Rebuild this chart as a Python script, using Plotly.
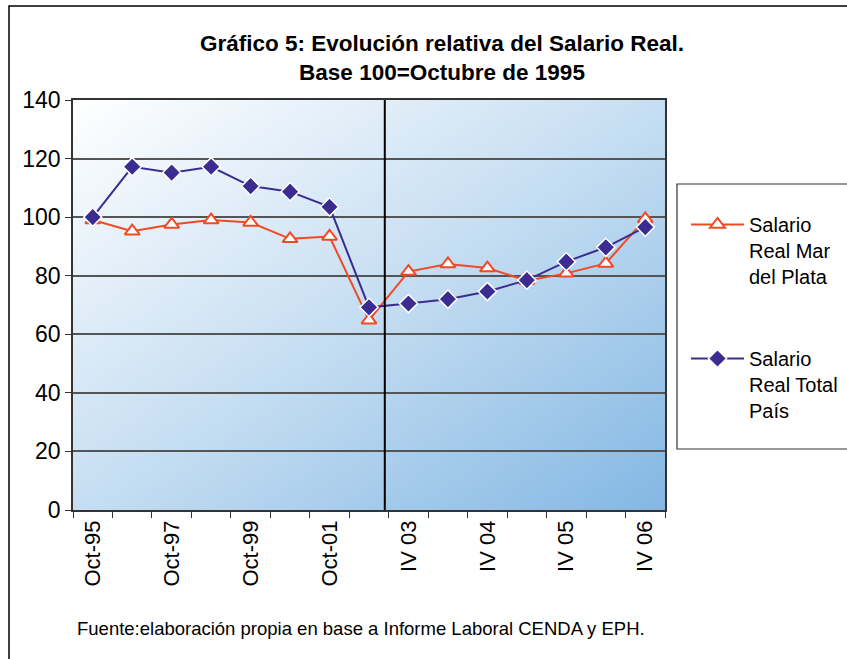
import base64
import plotly.graph_objects as go

# ---- data ----
periods = ["Oct-95", "Oct-96", "Oct-97", "Oct-98", "Oct-99", "Oct-00", "Oct-01", "Oct-02",
           "IV 03", "II 04", "IV 04", "II 05", "IV 05", "II 06", "IV 06"]
tick_labels = ["Oct-95", "", "Oct-97", "", "Oct-99", "", "Oct-01", "",
               "IV 03", "", "IV 04", "", "IV 05", "", "IV 06"]
mar_del_plata = [99.0, 95.2, 97.5, 99.0, 98.2, 92.6, 93.4, 64.8,
                 81.4, 84.0, 82.6, 78.3, 80.8, 84.2, 99.4]
total_pais = [100.0, 117.2, 115.2, 117.2, 110.6, 108.7, 103.5, 69.2,
              70.5, 72.0, 74.6, 78.5, 84.8, 89.7, 96.6]
series_names = ["Salario<br>Real Mar<br>del Plata", "Salario<br>Real Total<br>País"]
y_ticks = [0, 20, 40, 60, 80, 100, 120, 140]

RED = "#f04a25"
BLUE = "#3a2c91"
FONT = "Liberation Sans, Arial, sans-serif"

W, H = 847, 659
L, R, T, B = 73, 182, 100, 149
pw, ph = W - L - R, H - T - B

def px_x(p):
    return (p - L) / pw

def px_y(p):
    return (H - B - p) / ph

svg = (
    "<svg xmlns='http://www.w3.org/2000/svg' width='592' height='410' viewBox='0 0 592 410' "
    "preserveAspectRatio='none'><defs><linearGradient id='g' x1='0' y1='0' x2='1' y2='1'>"
    "<stop offset='0' stop-color='#ffffff'/><stop offset='0.5' stop-color='#c6def2'/>"
    "<stop offset='1' stop-color='#83b7e3'/></linearGradient></defs>"
    "<rect width='592' height='410' fill='url(#g)'/></svg>"
)
svg_uri = "data:image/svg+xml;base64," + base64.b64encode(svg.encode()).decode()

fig = go.Figure()
fig.add_trace(go.Scatter(
    x=periods, y=mar_del_plata, name=series_names[0], mode="lines+markers",
    line=dict(color=RED, width=2),
    marker=dict(symbol="triangle-up", size=13, color="white", line=dict(color=RED, width=2)),
    legendgroup="a",
))
fig.add_trace(go.Scatter(
    x=periods, y=total_pais, name=series_names[1], mode="lines+markers",
    line=dict(color=BLUE, width=2),
    marker=dict(symbol="diamond", size=14, color=BLUE, line=dict(color="white", width=1.5)),
    legendgroup="b",
))

fig.update_layout(
    width=W, height=H,
    margin=dict(l=L, r=R, t=T, b=B, autoexpand=False),
    paper_bgcolor="white",
    plot_bgcolor="rgba(0,0,0,0)",
    font=dict(family=FONT, size=21, color="black"),
    title=dict(
        text="<b>Gráfico 5: Evolución relativa del Salario Real.<br>Base 100=Octubre de 1995</b>",
        xref="container", yref="container", x=442 / W, y=1 - 51 / H,
        xanchor="center", yanchor="middle",
        font=dict(family=FONT, size=22.5, color="black"),
    ),
    xaxis=dict(
        type="category", tickmode="array", tickvals=periods, ticktext=tick_labels,
        tickson="boundaries", ticks="outside", ticklen=6, tickcolor="#333",
        tickangle=-90, showgrid=False, showline=True, linecolor="#333", linewidth=1.5,
        mirror=True, range=[-0.5, len(periods) - 0.5], tickfont=dict(size=22),
    ),
    yaxis=dict(
        range=[0, 140], tickvals=y_ticks, ticks="outside", ticklen=6, tickcolor="#333",
        showgrid=True, gridcolor="#555", gridwidth=1.5, zeroline=False,
        showline=True, linecolor="#333", linewidth=1.5, mirror=True,
        tickfont=dict(size=23),
    ),
    showlegend=True,
    legend=dict(
        x=px_x(686), y=px_y(205), xanchor="left", yanchor="top",
        bgcolor="rgba(0,0,0,0)", borderwidth=0, valign="top",
        font=dict(family=FONT, size=20), tracegroupgap=53, itemwidth=53,
        traceorder="grouped",
    ),
    images=[dict(source=svg_uri, xref="paper", yref="paper", x=0, y=1, sizex=1, sizey=1,
                 xanchor="left", yanchor="top", sizing="stretch", layer="below")],
    shapes=[
        dict(type="line", xref="x", yref="paper", x0=7.4, x1=7.4, y0=0, y1=1,
             line=dict(color="black", width=2)),
        dict(type="rect", xref="paper", yref="paper", x0=px_x(677), x1=px_x(900),
             y0=px_y(449), y1=px_y(184), line=dict(color="#333", width=1.2),
             fillcolor="rgba(0,0,0,0)", layer="below"),
        dict(type="rect", xref="paper", yref="paper", x0=px_x(9), x1=px_x(920),
             y0=px_y(700), y1=px_y(6), line=dict(color="black", width=1.5),
             fillcolor="rgba(0,0,0,0)", layer="below"),
    ],
    annotations=[
        dict(text="Fuente:elaboración propia en base a Informe Laboral CENDA y EPH.",
             xref="paper", yref="paper", x=px_x(75), y=px_y(628),
             xanchor="left", yanchor="middle", showarrow=False,
             font=dict(family=FONT, size=18.5, color="black")),
    ],
)

fig.write_html("out.html", config={"displayModeBar": False},
               post_script="document.body.style.margin='0px';")
